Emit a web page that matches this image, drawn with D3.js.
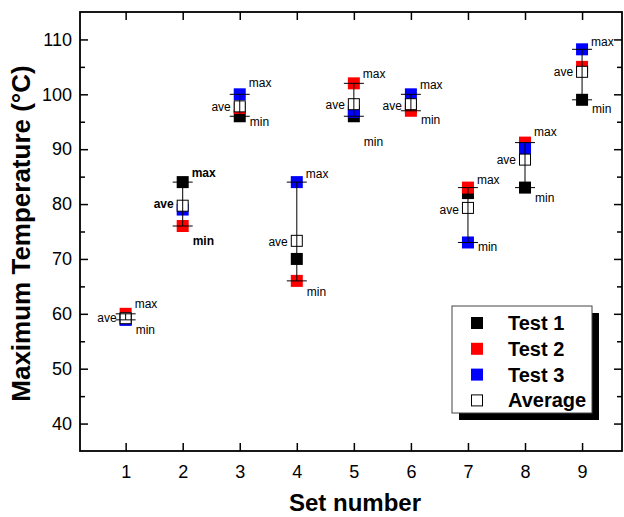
<!DOCTYPE html>
<html>
<head>
<meta charset="utf-8">
<script src="https://cdn.jsdelivr.net/npm/d3@7"></script>
<style>
  html, body { margin: 0; padding: 0; background: #fff; }
  svg { display: block; font-family: "Liberation Sans", Arial, sans-serif; }
</style>
</head>
<body>
<svg id="chart" width="624" height="517"></svg>
<script>
// ---------- data ----------
const sets    = [1, 2, 3, 4, 5, 6, 7, 8, 9];
const test1   = [59.0, 84.0, 96.0, 70.0, 96.0, 97.6, 82.0, 83.0, 99.0];
const test2   = [60.0, 76.0, 97.5, 66.0, 102.0, 97.0, 83.0, 91.2, 105.0];
const test3   = [58.9, 79.0, 100.0, 84.0, 96.8, 100.0, 73.0, 90.2, 108.2];
const average = [59.2, 79.7, 97.8, 73.3, 98.2, 98.2, 79.3, 88.1, 104.1];
const yTicks  = [40, 50, 60, 70, 80, 90, 100, 110];
const yMinor  = [45, 55, 65, 75, 85, 95, 105];
const xTicks  = [1, 2, 3, 4, 5, 6, 7, 8, 9];
// annotation label positions (value units)
const maxLabelY = [61.8, 85.6, 102.1, 85.5, 103.7, 101.7, 84.4, 93.1, 109.6];
const minLabelY = [57.0, 73.3, 94.9, 64.0, 91.4, 95.3, 72.2, 81.1, 97.3];
const aveLabelY = [59.2, 80.0, 97.7, 73.1, 98.0, 97.9, 78.9, 88.0, 104.0];
const boldLabelSet = 2;
const legendItems = ["Test 1", "Test 2", "Test 3", "Average"];
const colors = ["#000000", "#ff0000", "#0000ff", "#ffffff"];

// ---------- layout ----------
const svg = d3.select("#chart");
const L = 80, R = 622, T = 12, B = 451;
const x = d3.scaleLinear().domain([0.2, 9.7]).range([L, R]);
const y = d3.scaleLinear().domain([35, 115]).range([B, T]);

// axes
const axisStyle = g => {
  g.select(".domain").remove();
  g.selectAll("line").attr("stroke", "#000").attr("stroke-width", 1.5);
};
svg.append("g").attr("transform", `translate(${L},0)`)
  .call(d3.axisLeft(y).tickValues(yTicks).tickSize(-8).tickPadding(8))
  .call(axisStyle)
  .call(g => g.selectAll("text").attr("font-size", 18).attr("fill", "#000")
    .attr("font-family", "Liberation Sans, Arial, sans-serif"));
svg.append("g").attr("transform", `translate(${L},0)`)
  .call(d3.axisLeft(y).tickValues(yMinor).tickSize(-5).tickFormat(""))
  .call(axisStyle);
svg.append("g").attr("transform", `translate(${R},0)`)
  .call(d3.axisRight(y).tickValues(yTicks).tickSize(-8).tickFormat(""))
  .call(axisStyle);
svg.append("g").attr("transform", `translate(${R},0)`)
  .call(d3.axisRight(y).tickValues(yMinor).tickSize(-5).tickFormat(""))
  .call(axisStyle);
svg.append("g").attr("transform", `translate(0,${B})`)
  .call(d3.axisBottom(x).tickValues(xTicks).tickSize(-8).tickPadding(14))
  .call(axisStyle)
  .call(g => g.selectAll("text").attr("font-size", 18).attr("fill", "#000")
    .attr("font-family", "Liberation Sans, Arial, sans-serif"));
svg.append("g").attr("transform", `translate(0,${T})`)
  .call(d3.axisTop(x).tickValues(xTicks).tickSize(-8).tickFormat(""))
  .call(axisStyle);

// frame
svg.append("rect").attr("x", L).attr("y", T).attr("width", R - L).attr("height", B - T)
  .attr("fill", "none").attr("stroke", "#000").attr("stroke-width", 1.8);

// axis titles
svg.append("text").attr("x", (L + R) / 2 + 4).attr("y", 511)
  .attr("text-anchor", "middle").attr("font-size", 24).attr("font-weight", "bold")
  .text("Set number");
svg.append("text").attr("transform", `translate(30,${(T + B) / 2 + 2}) rotate(-90)`)
  .attr("text-anchor", "middle").attr("font-size", 26).attr("font-weight", "bold")
  .text("Maximum Temperature (°C)");

// data rows
const rows = sets.map((s, i) => {
  const vals = [test1[i], test2[i], test3[i]];
  return { s, i, vals, ave: average[i], max: d3.max(vals), min: d3.min(vals) };
});
const M = 12;
const series = [test1, test2, test3];
series.forEach((arr, k) => {
  svg.append("g").selectAll("rect").data(sets).join("rect")
    .attr("x", (s) => x(s) - M / 2)
    .attr("y", (s, i) => y(arr[i]) - M / 2)
    .attr("width", M).attr("height", M)
    .attr("fill", colors[k]);
});
svg.append("g").selectAll("rect").data(sets).join("rect")
  .attr("x", s => x(s) - M / 2 + 0.5)
  .attr("y", (s, i) => y(average[i]) - M / 2 + 0.5)
  .attr("width", M - 1).attr("height", M - 1)
  .attr("fill", "#fff").attr("stroke", "#000").attr("stroke-width", 1);

// error bars (min..max) with caps
const eb = svg.append("g").attr("stroke", "#000").attr("stroke-width", 1);
rows.forEach(r => {
  const cx = x(r.s);
  eb.append("line").attr("x1", cx).attr("x2", cx).attr("y1", y(r.min)).attr("y2", y(r.max));
  eb.append("line").attr("x1", cx - 10).attr("x2", cx + 10).attr("y1", y(r.min)).attr("y2", y(r.min));
  eb.append("line").attr("x1", cx - 10).attr("x2", cx + 10).attr("y1", y(r.max)).attr("y2", y(r.max));
});

// annotations
const ann = svg.append("g").attr("font-size", 12).attr("fill", "#000");
rows.forEach(r => {
  const cx = x(r.s);
  const bold = r.s === boldLabelSet ? "bold" : "normal";
  ann.append("text").attr("x", cx + 9).attr("y", y(maxLabelY[r.i]))
    .attr("dominant-baseline", "central").attr("font-weight", bold).text("max");
  ann.append("text").attr("x", cx + 10).attr("y", y(minLabelY[r.i]))
    .attr("dominant-baseline", "central").attr("font-weight", bold).text("min");
  ann.append("text").attr("x", cx - 9).attr("y", y(aveLabelY[r.i]))
    .attr("text-anchor", "end").attr("dominant-baseline", "central")
    .attr("font-weight", bold).text("ave");
});

// legend
const lg = svg.append("g").attr("transform", "translate(452,306)");
lg.append("rect").attr("x", 7).attr("y", 7).attr("width", 140).attr("height", 107).attr("fill", "#000");
lg.append("rect").attr("x", 0).attr("y", 0).attr("width", 140).attr("height", 107)
  .attr("fill", "#fff").attr("stroke", "#444").attr("stroke-width", 1);
legendItems.forEach((name, k) => {
  const cy = 17 + k * 25.8;
  lg.append("rect").attr("x", 25 - M / 2 + (k === 3 ? 0.5 : 0)).attr("y", cy - M / 2 + (k === 3 ? 0.5 : 0))
    .attr("width", k === 3 ? M - 1 : M).attr("height", k === 3 ? M - 1 : M)
    .attr("fill", colors[k]).attr("stroke", k === 3 ? "#000" : "none");
  lg.append("text").attr("x", 56).attr("y", cy).attr("dominant-baseline", "central")
    .attr("font-size", 20).attr("font-weight", "bold").text(name);
});
</script>
</body>
</html>
